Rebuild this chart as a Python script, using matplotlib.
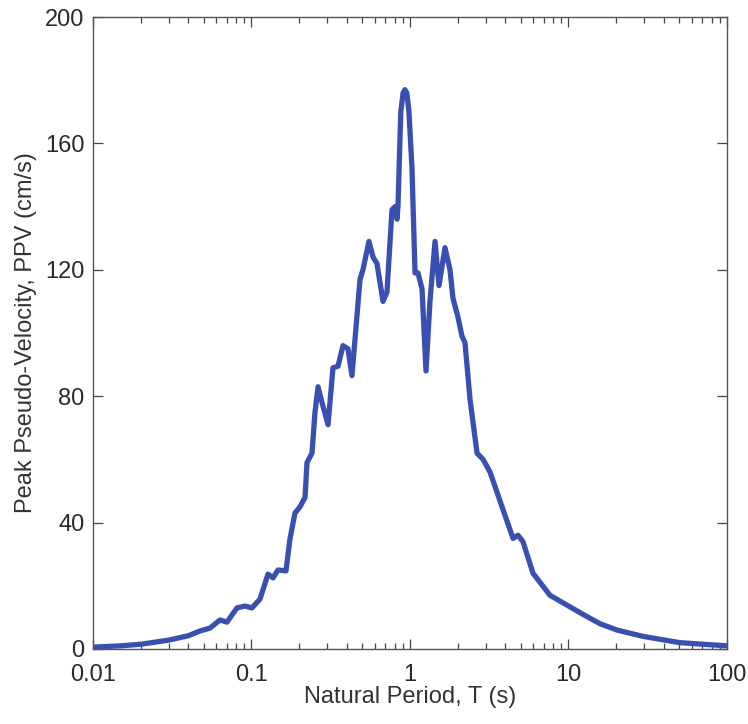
import matplotlib
matplotlib.use("Agg")
import matplotlib.pyplot as plt
from matplotlib.ticker import LogLocator, NullFormatter, FixedLocator

plt.rcParams['font.family'] = ['Liberation Sans', 'DejaVu Sans']

# natural period T (s) and peak pseudo-velocity PPV (cm/s)
period = [0.01, 0.015, 0.02, 0.03, 0.04, 0.0473, 0.0547, 0.0633, 0.070, 0.081,
          0.091, 0.1007, 0.1132, 0.1271, 0.1367, 0.1469, 0.1651, 0.1749, 0.1881, 0.2023,
          0.2178, 0.224, 0.2409, 0.2517, 0.263, 0.2786, 0.3041, 0.3268, 0.3516, 0.3778,
          0.4064, 0.4305, 0.4839, 0.505, 0.551, 0.585, 0.619, 0.676, 0.716, 0.770,
          0.804, 0.828, 0.840, 0.875, 0.905, 0.929, 0.955, 0.985, 1.030, 1.076,
          1.123, 1.191, 1.262, 1.337, 1.439, 1.524, 1.663, 1.788, 1.868, 2.009,
          2.128, 2.223, 2.392, 2.649, 2.891, 3.199, 4.467, 4.80, 5.16, 5.97,
          7.64, 12.3, 15.8, 20.2, 29.5, 50.5, 100.0]
ppv = [0.6, 1.0, 1.5, 2.8, 4.2, 5.7, 6.6, 9.2, 8.5, 13.0,
       13.6, 13.0, 15.8, 23.7, 22.5, 25.0, 24.7, 34.8, 43.0, 45.0,
       48.0, 59.0, 62.0, 75.0, 83.0, 78.0, 71.0, 89.0, 89.5, 96.0,
       95.0, 86.5, 117.0, 120.0, 129.0, 124.0, 122.0, 110.0, 113.0, 139.0,
       140.0, 136.0, 140.0, 170.0, 176.0, 177.0, 176.0, 170.0, 152.0, 119.0,
       119.0, 114.0, 88.0, 110.0, 129.0, 115.0, 127.0, 120.0, 111.0, 105.0,
       99.0, 97.0, 79.0, 62.0, 60.0, 56.0, 35.0, 36.0, 34.0, 24.0,
       17.0, 11.0, 8.0, 6.0, 4.0, 2.0, 1.0]

y_ticks = [0, 40, 80, 120, 160, 200]
x_ticks = [0.01, 0.1, 1, 10, 100]
x_labels = ['0.01', '0.1', '1', '10', '100']

fig = plt.figure(figsize=(7.48, 7.24), dpi=100)
ax = fig.add_axes([0.1243, 0.1036, 0.8476, 0.8729])

ax.plot(period, ppv, color='#3a50b0', lw=3.8, solid_joinstyle='round', solid_capstyle='round')

ax.set_xscale('log')
ax.set_xlim(0.01, 100)
ax.set_ylim(0, 200)
ax.xaxis.set_major_locator(FixedLocator(x_ticks))
ax.set_xticklabels(x_labels)
ax.xaxis.set_minor_locator(LogLocator(base=10, subs=range(2, 10)))
ax.xaxis.set_minor_formatter(NullFormatter())
ax.set_yticks(y_ticks)

ax.tick_params(which='both', direction='in', top=True, right=True, labelsize=17,
               labelcolor='#2a2a2a', color='#444444')
ax.tick_params(which='major', length=7, width=0.9)
ax.tick_params(which='minor', length=4.5, width=0.9)
ax.tick_params(axis='x', pad=11)
ax.tick_params(axis='y', pad=6)
for s in ax.spines.values():
    s.set_color('#555555')
    s.set_linewidth(1.0)

ax.set_xlabel('Natural Period, T (s)', fontsize=17, color='#333333', labelpad=0)
ax.set_ylabel('Peak Pseudo-Velocity, PPV (cm/s)', fontsize=17, color='#333333', labelpad=6)

fig.savefig('out.png', dpi=100)
